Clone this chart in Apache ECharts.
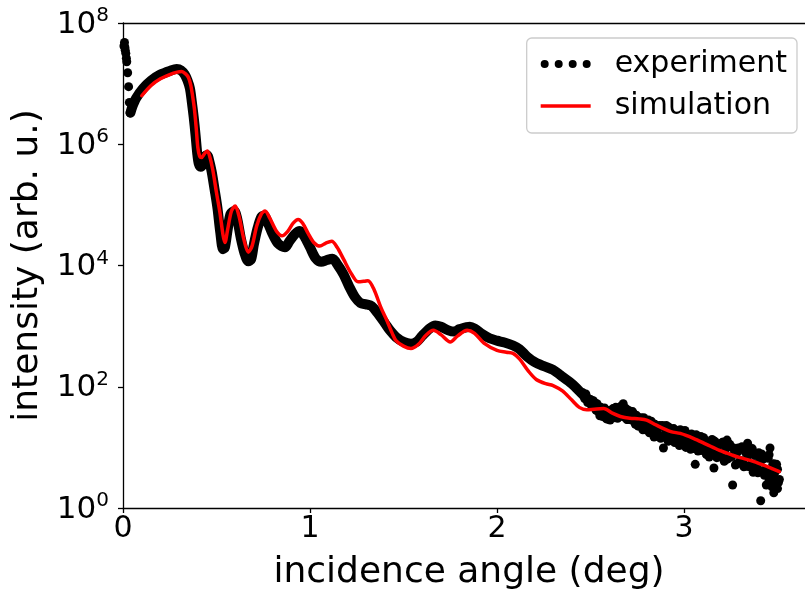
<!DOCTYPE html>
<html>
<head>
<meta charset="utf-8">
<script src="https://cdn.jsdelivr.net/npm/echarts@6/dist/echarts.min.js"></script>
<style>html,body{margin:0;padding:0;background:#fff}#c{width:805px;height:596px}</style>
</head>
<body>
<div id="c"></div>
<script>
// experiment: smooth part (angle in deg, log10 intensity)
const expX = [0.040,0.05,0.07,0.107,0.15,0.2,0.25,0.287,0.31,0.33,0.345,0.358,0.368,0.378,0.388,0.397,0.405,0.415,0.425,0.44,0.45,0.46,0.474,0.49,0.505,0.52,0.535,0.545,0.56,0.575,0.595,0.61,0.63,0.65,0.67,0.685,0.70,0.72,0.74,0.755,0.775,0.80,0.83,0.866,0.89,0.92,0.946,0.97,1.00,1.03,1.06,1.09,1.12,1.15,1.18,1.21,1.24,1.27,1.30,1.33,1.36,1.40,1.43,1.46,1.50,1.54,1.57,1.60,1.64,1.67,1.70,1.74,1.77,1.80,1.855,1.88,1.92,1.96,2.0,2.04,2.086,2.12,2.16,2.20,2.25,2.30,2.34,2.40,2.45,2.50,2.55];
const expLog = [6.52,6.62,6.76,6.92,7.05,7.15,7.21,7.24,7.22,7.15,7.05,6.92,6.70,6.45,6.15,5.85,5.68,5.63,5.66,5.80,5.82,5.74,5.55,5.25,4.95,4.55,4.27,4.30,4.60,4.85,4.90,4.78,4.45,4.20,4.07,4.10,4.35,4.62,4.80,4.82,4.70,4.52,4.36,4.30,4.40,4.52,4.57,4.48,4.30,4.12,4.06,4.09,4.11,4.00,3.85,3.65,3.48,3.38,3.36,3.33,3.22,3.05,2.92,2.82,2.74,2.71,2.74,2.84,2.96,3.01,2.99,2.93,2.91,2.95,2.99,2.96,2.87,2.80,2.76,2.73,2.68,2.62,2.50,2.41,2.34,2.28,2.19,2.05,1.90,1.75,1.60];
// experiment: individual points (near zero and noisy tail)
const dotX = [0.005,0.008,0.01,0.012,0.015,0.018,0.02,0.025,0.03,0.034,0.038,
2.46,2.47,2.48,2.49,2.50,2.51,2.52,2.53,2.54,2.55,2.56,2.57,2.58,2.59,2.60,2.61,2.62,2.63,2.64,2.65,2.66,2.67,2.68,2.69,2.70,2.71,2.72,2.73,2.74,2.75,2.76,2.77,2.78,2.79,2.80,2.81,2.82,2.83,2.84,2.85,2.86,2.87,2.88,2.89,2.90,2.91,2.92,2.93,2.94,2.95,2.96,2.97,2.98,2.99,3.00,3.01,3.02,3.03,3.04,3.05,3.06,3.07,3.08,3.09,3.10,3.11,3.12,3.13,3.14,3.15,3.16,3.17,3.18,3.19,3.20,3.21,3.22,3.23,3.24,3.25,3.26,3.27,3.28,3.29,3.30,3.31,3.32,3.33,3.34,3.35,3.36,3.37,3.38,3.39,3.40,3.41,3.42,3.43,3.44,3.45,3.46,3.47,3.48,3.49,3.50,3.51,3.455,3.47,3.48,3.49,3.50,
2.465,2.475,2.485,2.495,2.505,2.515,2.525,2.535,2.545,2.555,2.565,2.575,2.585,2.595,2.605,2.615,2.625,2.635,2.645,2.655,2.665,2.675,2.685,2.695,2.705,2.715,2.725,2.735,2.745,2.755,2.765,2.775,2.785,2.795,2.805,2.815,2.825,2.835,2.845,2.855,2.865,2.875,2.885,2.895,2.905,2.915,2.925,2.935,2.945,2.955,2.965,2.975,2.985,2.995,3.005,3.015,3.025,3.035,3.045,3.055,3.065,3.075,3.085,3.095,3.105,3.115,3.125,3.135,3.145,3.155,3.165,3.175,3.185,3.195,3.205,3.215,3.225,3.235,3.245,3.255,3.265,3.275,3.285,3.295,3.305,3.315,3.325,3.335,3.345,3.355,3.365,3.375,3.385,3.395,3.405,3.415,3.425,3.435,3.445,3.455,3.465,3.475,3.485,3.495,3.505];
const dotLog = [7.62,7.68,7.60,7.55,7.50,7.42,7.36,7.18,6.95,6.69,6.52,
1.90,1.80,1.83,1.75,1.79,1.70,1.74,1.61,1.66,1.52,1.63,1.52,1.59,1.47,1.61,1.52,1.64,1.49,1.60,1.52,1.67,1.69,1.50,1.64,1.46,1.57,1.45,1.55,1.38,1.50,1.39,1.49,1.29,1.44,1.30,1.45,1.30,1.39,1.17,1.35,1.22,1.36,1.17,0.99,1.31,1.15,1.33,1.16,1.25,1.08,1.28,1.13,1.29,1.06,1.21,1.00,1.21,1.06,1.22,0.98,0.72,1.15,0.97,1.18,0.98,1.12,0.88,1.06,0.90,1.13,0.66,1.02,0.84,1.06,0.88,1.09,0.79,1.12,0.83,1.01,0.38,0.95,0.73,0.99,0.78,1.01,0.68,0.91,1.07,0.68,0.93,0.59,0.87,0.68,0.91,0.12,0.80,0.54,0.38,0.82,0.99,0.53,0.73,0.47,0.64,0.47,0.45,0.35,0.25,0.42,0.32,
1.84,1.88,1.74,1.79,1.69,1.77,1.65,1.72,1.58,1.66,1.51,1.65,1.47,1.59,1.45,1.62,1.53,1.66,1.48,1.63,1.55,1.72,1.60,1.46,1.61,1.49,1.59,1.43,1.53,1.35,1.48,1.38,1.49,1.29,1.40,1.24,1.43,1.28,1.38,1.19,1.33,1.15,1.36,1.21,1.36,1.10,1.26,1.12,1.31,1.15,1.25,1.03,1.21,1.09,1.28,1.05,1.15,0.97,1.18,1.06,1.21,0.94,1.11,0.95,1.16,0.96,1.09,0.84,1.03,0.91,1.10,0.83,1.03,0.90,1.08,0.77,0.98,0.81,1.05,0.85,0.99,0.71,0.92,0.74,0.97,0.78,1.00,0.69,0.87,0.71,0.98,0.73,0.90,0.58,0.78,0.89,0.62,0.83,0.62,0.88,0.45,0.72,0.58,0.72,0.42];
// simulation
const simX = [0.10,0.15,0.20,0.25,0.29,0.314,0.335,0.35,0.362,0.372,0.382,0.392,0.40,0.41,0.42,0.435,0.45,0.462,0.48,0.50,0.518,0.535,0.545,0.56,0.58,0.60,0.62,0.645,0.67,0.69,0.715,0.74,0.76,0.785,0.82,0.85,0.88,0.91,0.937,0.96,0.99,1.02,1.053,1.085,1.116,1.145,1.18,1.22,1.257,1.29,1.31,1.34,1.38,1.41,1.44,1.46,1.50,1.54,1.58,1.62,1.66,1.70,1.75,1.79,1.84,1.88,1.93,2.0,2.05,2.086,2.12,2.17,2.21,2.26,2.30,2.35,2.40,2.44,2.48,2.52,2.57,2.62,2.66,2.71,2.76,2.80,2.85,2.93,2.98,3.05,3.12,3.19,3.26,3.30,3.37,3.44,3.51];
const simLog = [6.80,6.97,7.08,7.15,7.19,7.20,7.16,7.10,6.98,6.80,6.58,6.25,5.95,5.80,5.78,5.84,5.89,5.82,5.58,5.20,4.88,4.50,4.38,4.60,4.90,4.98,4.82,4.45,4.22,4.32,4.65,4.85,4.90,4.78,4.57,4.49,4.56,4.70,4.76,4.70,4.53,4.38,4.32,4.37,4.40,4.30,4.10,3.87,3.73,3.74,3.75,3.62,3.30,3.10,2.88,2.76,2.67,2.63,2.70,2.85,2.93,2.86,2.74,2.84,2.93,2.88,2.72,2.60,2.57,2.55,2.46,2.25,2.12,2.05,2.02,1.93,1.78,1.66,1.62,1.63,1.64,1.56,1.51,1.48,1.47,1.45,1.37,1.26,1.23,1.15,1.05,0.95,0.87,0.83,0.77,0.69,0.60];
const xTicks = [0, 1, 2, 3];

const toPts = (xs, ls) => xs.map((x, i) => [x, Math.pow(10, ls[i])]);
const font = 'DejaVu Sans';
const chart = echarts.init(document.getElementById('c'), null, {renderer: 'canvas'});
chart.setOption({
  animation: false,
  backgroundColor: '#fff',
  grid: {left: 123, top: 23, right: 0, bottom: 86, show: false},
  legend: {
    orient: 'vertical', right: 8, top: 38,
    backgroundColor: '#fff', borderColor: '#cccccc', borderWidth: 1.3, borderRadius: 5,
    padding: [11, 10, 12, 14], itemGap: 12, itemWidth: 50, itemHeight: 9,
    textStyle: {fontFamily: font, fontSize: 30, color: '#000', padding: [0, 0, 0, 19]},
    data: [
      {name: 'experiment', icon: 'path://M0,4a4,4 0 1,0 8,0a4,4 0 1,0 -8,0zM14,4a4,4 0 1,0 8,0a4,4 0 1,0 -8,0zM28,4a4,4 0 1,0 8,0a4,4 0 1,0 -8,0zM42,4a4,4 0 1,0 8,0a4,4 0 1,0 -8,0z'},
      {name: 'simulation', icon: 'path://M0,0h0.01v0.01h-0.01zM0,2.2h50v3.6h-50zM0,7.99h0.01v0.01h-0.01z'}
    ]
  },
  xAxis: [{
    type: 'value', min: 0, max: 3.647, interval: 1, position: 'bottom',
    name: 'incidence angle (deg)', nameLocation: 'middle', nameGap: 47,
    nameTextStyle: {fontFamily: font, fontSize: 36, color: '#000', padding: [0, 0, 0, 10]},
    axisLine: {show: true, onZero: false, lineStyle: {color: '#000', width: 1.3}},
    axisTick: {show: true, inside: false, length: 5, lineStyle: {color: '#000', width: 1.3}},
    axisLabel: {fontFamily: font, fontSize: 30, color: '#000', margin: 6, showMaxLabel: false,
      formatter: v => xTicks.indexOf(v) >= 0 ? String(v) : ''},
    splitLine: {show: false}
  }, {
    type: 'value', min: 0, max: 3.647, position: 'top',
    axisLine: {show: true, onZero: false, lineStyle: {color: '#000', width: 1.3}},
    axisTick: {show: false}, axisLabel: {show: false}, splitLine: {show: false}
  }],
  yAxis: {
    type: 'log', logBase: 10, min: 1, max: 1e8, interval: 2,
    name: 'intensity (arb. u.)', nameLocation: 'middle', nameGap: 77,
    nameTextStyle: {fontFamily: font, fontSize: 36, color: '#000'},
    axisLine: {show: true, lineStyle: {color: '#000', width: 1.3}},
    axisTick: {show: true, inside: false, length: 5, lineStyle: {color: '#000', width: 1.3}},
    minorTick: {show: false},
    axisLabel: {
      margin: 14, color: '#000',
      formatter: v => { const e = Math.round(Math.log10(v)); return '{b|10}{s|' + e + '}'; },
      rich: {
        b: {fontFamily: font, fontSize: 31, color: '#000', verticalAlign: 'bottom'},
        s: {fontFamily: font, fontSize: 20, color: '#000', verticalAlign: 'bottom', padding: [0, 0, 14, 0]}
      }
    },
    splitLine: {show: false}
  },
  series: [
    {name: 'experiment', type: 'line', data: toPts(expX, expLog), showSymbol: false, symbol: 'none', smooth: 0.3,
      itemStyle: {color: '#000'}, lineStyle: {color: '#000', width: 10, join: 'round', cap: 'round'}, z: 2},
    {name: 'experiment', type: 'scatter', data: toPts(dotX, dotLog), symbol: 'circle', symbolSize: 9,
      itemStyle: {color: '#000', opacity: 1}, z: 2},
    {name: 'simulation', type: 'line', data: toPts(simX, simLog), showSymbol: false, symbol: 'none', smooth: 0.3,
      itemStyle: {color: '#ff0000'}, lineStyle: {color: '#ff0000', width: 3.5, join: 'round', cap: 'round'}, z: 3}
  ]
});
</script>
</body>
</html>
